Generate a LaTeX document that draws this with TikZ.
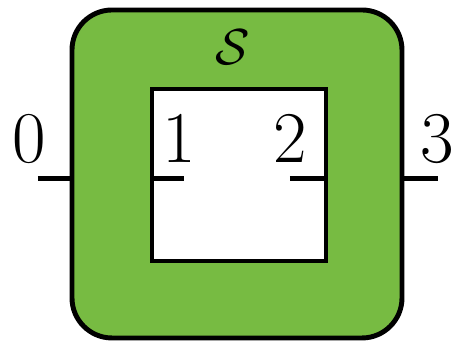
\documentclass[tikz,border=0pt]{standalone}
\usetikzlibrary{positioning,calc}
\definecolor{sysgreen}{RGB}{119,187,66}

\begin{document}
\begin{tikzpicture}[
  outer/.style={draw, fill=sysgreen, line width=1.4pt, rounded corners=0.4cm, minimum width=3.30cm, minimum height=3.28cm},
  hole/.style={draw, fill=white, line width=1.4pt, minimum width=1.74cm, minimum height=1.72cm},
  wire/.style={line width=1.4pt},
  lbl/.style={font=\fontsize{21}{25}\selectfont, inner sep=0pt},
  sym/.style={font=\fontsize{15}{18}\selectfont, inner sep=0pt}
]
\useasboundingbox (0,0) rectangle (4.55,3.42);

\node[outer] (sys) at (2.37,1.68) {};
\node[hole] (inner) at (2.39,1.67) {};
\node[sym] (name) at (2.33,2.95) {$\mathcal{S}$};

% free wire ends
\coordinate (w0) at (0.38,1.635);
\coordinate (w1) at (1.84,1.635);
\coordinate (w2) at (2.90,1.635);
\coordinate (w3) at (4.38,1.635);

\draw[wire] (w0) -- (w0 -| sys.west);
\draw[wire] (w1) -- (w1 -| inner.west);
\draw[wire] (w2) -- (w2 -| inner.east);
\draw[wire] (w3) -- (w3 -| sys.east);

\node[lbl] (l0) at (0.29,2.03) {$0$};
\node[lbl] (l1) at (1.79,2.03) {$1$};
\node[lbl] (l2) at (2.90,2.03) {$2$};
\node[lbl] (l3) at (4.37,2.03) {$3$};

\end{tikzpicture}
\end{document}
